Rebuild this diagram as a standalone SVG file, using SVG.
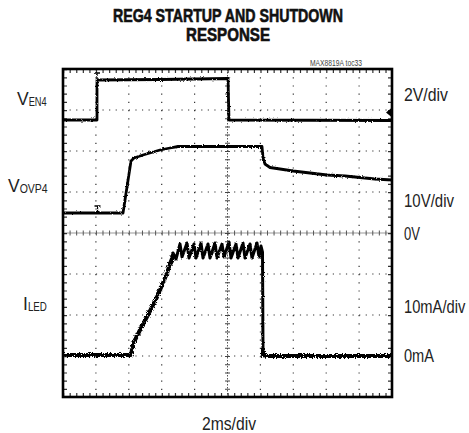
<svg xmlns="http://www.w3.org/2000/svg" width="469" height="433" viewBox="0 0 469 433">
<style>
text{font-family:"Liberation Sans",Arial,Helvetica,sans-serif;fill:#222}
.title{font-size:17.5px;font-weight:bold;fill:#111;stroke:#111;stroke-width:0.6}
.lbl{font-size:17.5px}
.sub{font-size:12px}
.small{font-size:9px;fill:#444}
.gh{stroke:#333;stroke-width:1.2;stroke-dasharray:1.2 5.38;fill:none}
.gv{stroke:#333;stroke-width:1.2;stroke-dasharray:1.2 7;fill:none}
.trace{fill:none;stroke:#000;stroke-linejoin:round;stroke-linecap:butt}
</style>
<defs>
<filter id="noise" filterUnits="userSpaceOnUse" x="50" y="60" width="360" height="350">
<feTurbulence type="fractalNoise" baseFrequency="0.9" numOctaves="2" seed="3" result="n"/>
<feDisplacementMap in="SourceGraphic" in2="n" scale="5" xChannelSelector="R" yChannelSelector="G"/>
</filter>
<filter id="noise2" filterUnits="userSpaceOnUse" x="50" y="60" width="360" height="350">
<feTurbulence type="fractalNoise" baseFrequency="0.8" numOctaves="2" seed="7" result="n"/>
<feDisplacementMap in="SourceGraphic" in2="n" scale="2.5" xChannelSelector="R" yChannelSelector="G"/>
</filter>
</defs>
<rect width="469" height="433" fill="#fff"/>
<g id="title">
<text class="title" x="228" y="21.5" text-anchor="middle" textLength="230" lengthAdjust="spacingAndGlyphs">REG4 STARTUP AND SHUTDOWN</text>
<text class="title" x="228" y="41" text-anchor="middle" textLength="84" lengthAdjust="spacingAndGlyphs">RESPONSE</text>
<text class="small" x="362" y="66" text-anchor="end" textLength="52" lengthAdjust="spacingAndGlyphs">MAX8819A toc33</text>
</g>
<g id="grid">
<rect x="63" y="69" width="329" height="328" fill="#fff" stroke="none"/>
<line class="gh" x1="63" y1="110" x2="392" y2="110"/>
<line class="gh" x1="63" y1="151" x2="392" y2="151"/>
<line class="gh" x1="63" y1="192" x2="392" y2="192"/>
<line class="gh" x1="63" y1="274" x2="392" y2="274"/>
<line class="gh" x1="63" y1="315" x2="392" y2="315"/>
<line class="gh" x1="63" y1="356" x2="392" y2="356"/>
<line class="gv" x1="95.9" y1="69" x2="95.9" y2="397"/>
<line class="gv" x1="128.8" y1="69" x2="128.8" y2="397"/>
<line class="gv" x1="161.7" y1="69" x2="161.7" y2="397"/>
<line class="gv" x1="194.6" y1="69" x2="194.6" y2="397"/>
<line class="gv" x1="260.4" y1="69" x2="260.4" y2="397"/>
<line class="gv" x1="293.3" y1="69" x2="293.3" y2="397"/>
<line class="gv" x1="326.2" y1="69" x2="326.2" y2="397"/>
<line class="gv" x1="359.1" y1="69" x2="359.1" y2="397"/>
<line x1="63" y1="233" x2="392" y2="233" stroke="#999" stroke-width="1.2"/>
<line x1="63" y1="233" x2="392" y2="233" stroke="#555" stroke-width="5" stroke-dasharray="1 5.58"/>
<line x1="227.5" y1="69" x2="227.5" y2="397" stroke="#555" stroke-width="1" stroke-dasharray="1.5 1.5"/>
<line x1="227.5" y1="69" x2="227.5" y2="397" stroke="#444" stroke-width="5" stroke-dasharray="1 7.2"/>
<line x1="63" y1="71.5" x2="392" y2="71.5" stroke="#333" stroke-width="3" stroke-dasharray="1.2 5.38"/>
<line x1="63" y1="394.5" x2="392" y2="394.5" stroke="#333" stroke-width="3" stroke-dasharray="1.2 5.38"/>
<line x1="65.5" y1="69" x2="65.5" y2="397" stroke="#333" stroke-width="3" stroke-dasharray="1.2 7"/>
<line x1="389.5" y1="69" x2="389.5" y2="397" stroke="#333" stroke-width="3" stroke-dasharray="1.2 7"/>
</g>
<g id="traces">
<g id="ven4" filter="url(#noise2)">
<polyline class="trace" stroke-width="2.8" points="63,120 97,120 97,80 160,79.5 228,78.5 229,120 392,120.5"/>
<path d="M94,73H100M97,73V80" stroke="#000" stroke-width="1.3" fill="none"/>
</g>
<polygon points="386,112.5 391.5,108 391.5,117" fill="#000"/>
<g id="vovp4" filter="url(#noise2)">
<polyline class="trace" stroke-width="2.8" points="63,213 123,213 131,161 134,158 143,155 160,150 170,148 178,146.5 262,146.5 263,158 265,164 270,167.5 280,169 293,171 310,173 327,175 345,176 360,177.5 375,179 392,180"/>
<path d="M94.5,206H100.5M97.5,206V213" stroke="#000" stroke-width="1.3" fill="none"/>
</g>
<g id="iled">
<polyline class="trace" stroke-width="4" filter="url(#noise)" points="63,355 131,355 133,344 140,330 150,311 157,297 163,283 167,273 170,264 173,256"/>
<polyline class="trace" stroke-width="3" filter="url(#noise2)" points="171,262 173,253 176,259 180,244 182,257 187,243 189,258 194,244 196,258 201,243 203,258 208,244 210,258 215,243 217,258 222,244 224,257 229,242 231,258 236,244 238,258 243,243 245,258 250,244 252,258 257,243 259,257 261,246 262.5,252 263,352"/>
<polyline class="trace" stroke-width="4" filter="url(#noise)" points="263,348 263,355 266,356 392,356"/>
</g>
</g>
<rect id="frame" x="63" y="69" width="329" height="328" fill="none" stroke="#000" stroke-width="2.6"/>
<g id="labels">
<text class="lbl" x="17" y="105">V<tspan class="sub" dy="1" textLength="18" lengthAdjust="spacingAndGlyphs">EN4</tspan></text>
<text class="lbl" x="8" y="192">V<tspan class="sub" dy="1" textLength="28" lengthAdjust="spacingAndGlyphs">OVP4</tspan></text>
<text class="lbl" x="23" y="310">I<tspan class="sub" dy="1" textLength="19" lengthAdjust="spacingAndGlyphs">LED</tspan></text>
<text class="lbl" x="404" y="101" textLength="44" lengthAdjust="spacingAndGlyphs">2V/div</text>
<text class="lbl" x="404" y="207" textLength="50" lengthAdjust="spacingAndGlyphs">10V/div</text>
<text class="lbl" x="404" y="240" textLength="16" lengthAdjust="spacingAndGlyphs">0V</text>
<text class="lbl" transform="translate(404,313) scale(0.84,1)" x="0" y="0">10mA/div</text>
<text class="lbl" x="404" y="362" textLength="30" lengthAdjust="spacingAndGlyphs">0mA</text>
<text class="lbl" x="202" y="430" textLength="54" lengthAdjust="spacingAndGlyphs">2ms/div</text>
</g>
</svg>
